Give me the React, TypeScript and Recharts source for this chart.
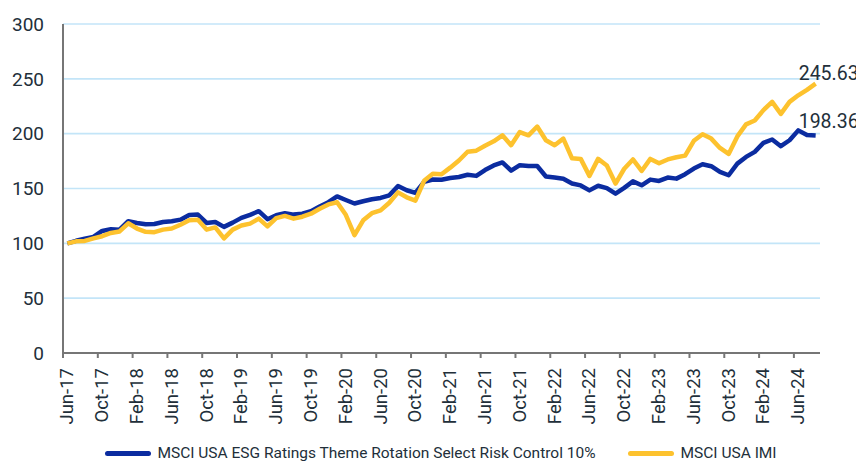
import React from 'react';
import { LineChart, Line, XAxis, YAxis, CartesianGrid, Legend, LabelList } from 'recharts';

const months = [
  'Jun-17', 'Jul-17', 'Aug-17', 'Sep-17', 'Oct-17', 'Nov-17', 'Dec-17',
  'Jan-18', 'Feb-18', 'Mar-18', 'Apr-18', 'May-18', 'Jun-18', 'Jul-18', 'Aug-18', 'Sep-18', 'Oct-18', 'Nov-18', 'Dec-18',
  'Jan-19', 'Feb-19', 'Mar-19', 'Apr-19', 'May-19', 'Jun-19', 'Jul-19', 'Aug-19', 'Sep-19', 'Oct-19', 'Nov-19', 'Dec-19',
  'Jan-20', 'Feb-20', 'Mar-20', 'Apr-20', 'May-20', 'Jun-20', 'Jul-20', 'Aug-20', 'Sep-20', 'Oct-20', 'Nov-20', 'Dec-20',
  'Jan-21', 'Feb-21', 'Mar-21', 'Apr-21', 'May-21', 'Jun-21', 'Jul-21', 'Aug-21', 'Sep-21', 'Oct-21', 'Nov-21', 'Dec-21',
  'Jan-22', 'Feb-22', 'Mar-22', 'Apr-22', 'May-22', 'Jun-22', 'Jul-22', 'Aug-22', 'Sep-22', 'Oct-22', 'Nov-22', 'Dec-22',
  'Jan-23', 'Feb-23', 'Mar-23', 'Apr-23', 'May-23', 'Jun-23', 'Jul-23', 'Aug-23', 'Sep-23', 'Oct-23', 'Nov-23', 'Dec-23',
  'Jan-24', 'Feb-24', 'Mar-24', 'Apr-24', 'May-24', 'Jun-24', 'Jul-24', 'Aug-24',
];

const esgRotation = [
  100, 102.3, 104.2, 105.8, 111.3, 112.8, 112.5,
  120.2, 118.6, 117.4, 117.6, 119.5, 120.1, 121.6, 125.8, 126.2, 118.6, 119.5, 115,
  118.9, 123.2, 126, 129.3, 122, 125.6, 127.5, 126.2, 127, 129.3, 133.6, 137.5,
  142.8, 139.5, 136.3, 138.4, 140.2, 141.4, 143.8, 152.2, 148.4, 146, 156, 158.2,
  158, 159.5, 160.5, 162.5, 161.5, 166.8, 171, 173.8, 166.3, 171.3, 170.5, 170.5,
  161, 160, 158.9, 154.6, 152.8, 148.3, 152.5, 150.4, 145.3, 150.6, 156.5, 152.9,
  158.1, 156.9, 160, 159, 163, 168.2, 172.1, 170.3, 165.1, 162.1, 172.7, 178.8,
  183.4, 191.6, 194.7, 188.6, 194, 203, 198.8, 198.36,
];

const usaImi = [
  100, 101.8, 102.2, 104.5, 106.5, 109.5, 110.8,
  118.3, 113.5, 110.5, 110.2, 112.5, 113.5, 117, 121, 121.5, 112.5, 114.5, 104.5,
  112.5, 116.3, 118, 122.5, 115.5, 123, 125, 122.5, 124.3, 127, 131.5, 135.5,
  137.5, 126, 107.5, 121, 127.5, 130, 137, 146.5, 142, 139, 157, 163.5,
  163, 169, 175.5, 183.5, 184.5, 189, 193, 198.5, 189.5, 201.5, 198.5, 206.5,
  194, 189.5, 195.5, 177.5, 177, 161.5, 177, 171, 154.5, 168, 176.5, 166,
  177, 173, 176.5, 178.5, 180, 193.5, 199.5, 195.5, 187, 181.5, 197.5, 208.5,
  212, 221.5, 229, 218, 229, 235, 240, 245.63,
];

const yTicks = [0, 50, 100, 150, 200, 250, 300];
const xTickIdx = [0, 4, 8, 12, 16, 20, 24, 28, 32, 36, 40, 44, 48, 52, 56, 60, 64, 68, 72, 76, 80, 84];

const seriesNames = [
  'MSCI USA ESG Ratings Theme Rotation Select Risk Control 10%',
  'MSCI USA IMI',
];

const data = months.map((m, i) => ({ idx: i, month: m, esg: esgRotation[i], imi: usaImi[i] }));

const W = 856;
const H = 457;
const MARGIN = { top: 16, right: 44, left: 0, bottom: 2 };
const Y_W = 55;
const X_H = 90;
const PLOT_W = W - MARGIN.left - MARGIN.right - Y_W;
const HALF_BAND = PLOT_W / months.length / 2;

const BLUE = '#0b2ca0';
const YELLOW = '#fdc22e';
const TEXT = '#222f3a';
const AXIS = '#767676';
const GRID = '#c3e5f8';
const FONT = 'Roboto, "Noto Sans", sans-serif';

const XTick = (props: any) => {
  const { x, y, payload } = props;
  const label = months[payload.value];
  return (
    <g>
      <line x1={x - HALF_BAND} x2={x - HALF_BAND} y1={y} y2={y + 5} stroke={AXIS} strokeWidth={2} />
      <text
        transform={`translate(${x},${y + 15}) rotate(-90)`}
        textAnchor="end"
        dominantBaseline="central"
        fill={TEXT}
        fontSize={18.5}
        fontFamily={FONT}
      >
        {label}
      </text>
    </g>
  );
};

const endLabel = (dy: number) => (props: any) => {
  const { x, y, value, index } = props;
  if (index !== months.length - 1) return null;
  return (
    <text x={x + 13} y={y + dy} textAnchor="middle" fill={TEXT} fontSize={19.5} fontFamily={FONT}>
      {Number(value).toFixed(2)}
    </text>
  );
};

const renderLegend = () => (
  <div
    style={{
      height: 20,
      display: 'flex',
      justifyContent: 'center',
      alignItems: 'center',
      fontFamily: FONT,
      fontSize: 15.5,
      color: TEXT,
      paddingLeft: 10,
      whiteSpace: 'nowrap',
    }}
  >
    <span style={{ display: 'inline-block', width: 46, height: 5, borderRadius: 3, background: BLUE, marginRight: 6 }} />
    <span style={{ marginRight: 32 }}>{seriesNames[0]}</span>
    <span style={{ display: 'inline-block', width: 46, height: 5, borderRadius: 3, background: YELLOW, marginRight: 7 }} />
    <span>{seriesNames[1]}</span>
  </div>
);

export default function App() {
  return (
    <LineChart width={W} height={H} data={data} margin={MARGIN}>
      <CartesianGrid horizontal vertical={false} stroke={GRID} strokeWidth={1.6} />
      <XAxis
        dataKey="idx"
        type="number"
        domain={[-0.5, months.length - 0.5]}
        ticks={xTickIdx}
        interval={0}
        height={X_H}
        tickSize={0}
        tickMargin={0}
        tickLine={false}
        axisLine={{ stroke: AXIS, strokeWidth: 2 }}
        tick={<XTick />}
      />
      <YAxis
        domain={[0, 300]}
        ticks={yTicks}
        width={Y_W}
        tickSize={0}
        tickMargin={19}
        tickLine={false}
        axisLine={{ stroke: AXIS, strokeWidth: 2 }}
        tick={{ fill: TEXT, fontSize: 19, fontFamily: FONT }}
      />
      <Legend verticalAlign="bottom" content={renderLegend} wrapperStyle={{ left: 0, width: W }} />
      <Line
        type="linear"
        dataKey="esg"
        name={seriesNames[0]}
        stroke={BLUE}
        strokeWidth={4.5}
        dot={false}
        strokeLinejoin="round"
        isAnimationActive={false}
      >
        <LabelList dataKey="esg" content={endLabel(-7.5)} />
      </Line>
      <Line
        type="linear"
        dataKey="imi"
        name={seriesNames[1]}
        stroke={YELLOW}
        strokeWidth={4.5}
        dot={false}
        strokeLinejoin="round"
        isAnimationActive={false}
      >
        <LabelList dataKey="imi" content={endLabel(-4)} />
      </Line>
    </LineChart>
  );
}
